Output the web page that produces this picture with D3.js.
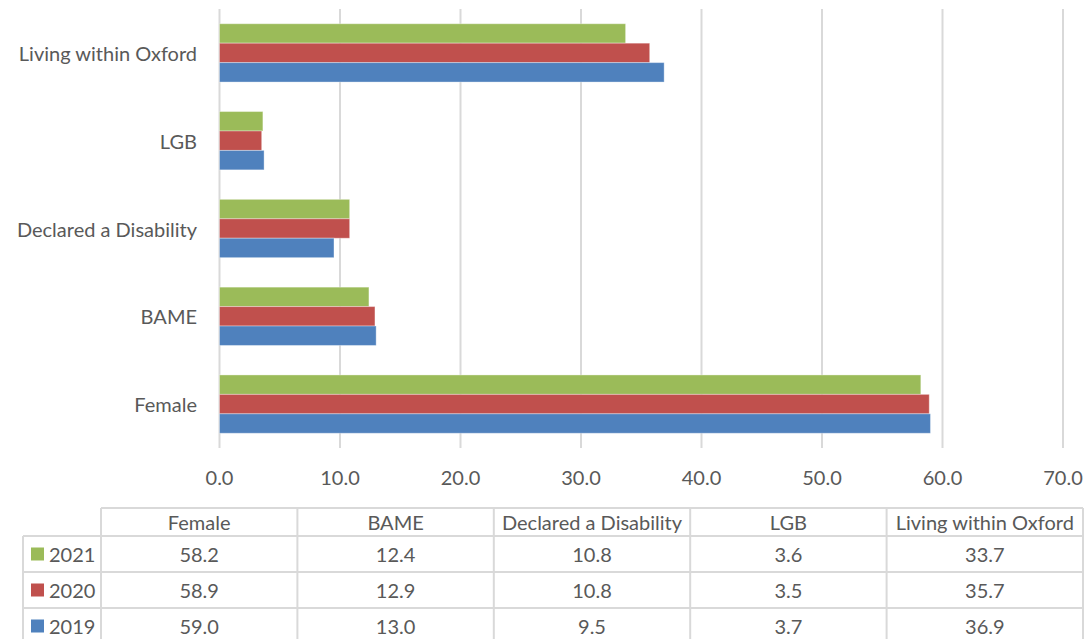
<!DOCTYPE html>
<html>
<head>
<meta charset="utf-8">
<script src="https://cdn.jsdelivr.net/npm/d3@7"></script>
<style>
html,body{margin:0;padding:0;background:#fff;}
svg{display:block;}
text{font-family:Lato,"Open Sans",sans-serif;fill:#595959;}
</style>
</head>
<body>
<svg id="chart" width="1085" height="639"></svg>
<script>
const categories = ["Female", "BAME", "Declared a Disability", "LGB", "Living within Oxford"];
const seriesNames = ["2021", "2020", "2019"];
const values2021 = [58.2, 12.4, 10.8, 3.6, 33.7];
const values2020 = [58.9, 12.9, 10.8, 3.5, 35.7];
const values2019 = [59.0, 13.0, 9.5, 3.7, 36.9];
const xTicks = [0, 10, 20, 30, 40, 50, 60, 70];
const colors = {"2021": "#9bbb59", "2020": "#c0504d", "2019": "#4f81bd"};

const seriesValues = {"2021": values2021, "2020": values2020, "2019": values2019};

const svg = d3.select("#chart");
const fs = 20;

const x = d3.scaleLinear().domain([0, 70]).range([219.5, 1063]);
const y = d3.scaleBand().domain(categories.slice().reverse()).range([9, 448]).paddingInner(0.336).paddingOuter(0.168);
const ySub = d3.scaleBand().domain(seriesNames).range([0, y.bandwidth()]);

// gridlines
svg.append("g").selectAll("line").data(xTicks).join("line")
  .attr("x1", d => x(d)).attr("x2", d => x(d))
  .attr("y1", 9).attr("y2", 448)
  .attr("stroke", "#d9d9d9").attr("stroke-width", 2);

// bars
const groups = svg.append("g").selectAll("g").data(categories).join("g")
  .attr("transform", d => `translate(0,${y(d)})`);
groups.selectAll("rect").data((c, i) => seriesNames.map(s => ({s, v: seriesValues[s][i]})))
  .join("rect")
  .attr("x", x(0))
  .attr("y", d => ySub(d.s))
  .attr("width", d => x(d.v) - x(0))
  .attr("height", ySub.bandwidth())
  .attr("fill", d => colors[d.s])
  .attr("stroke", "rgba(255,255,255,0.35)")
  .attr("stroke-width", 1);

// category labels
svg.append("g").selectAll("text").data(categories).join("text")
  .attr("x", 197)
  .attr("y", d => y(d) + y.bandwidth() / 2)
  .attr("text-anchor", "end")
  .attr("dominant-baseline", "central")
  .attr("font-size", fs)
  .text(d => d);

// x tick labels
svg.append("g").selectAll("text").data(xTicks).join("text")
  .attr("x", d => x(d))
  .attr("y", 477)
  .attr("text-anchor", "middle")
  .attr("dominant-baseline", "central")
  .attr("font-size", fs)
  .text(d => d3.format(".1f")(d));

// data table
const col = d3.scaleBand().domain(categories).range([101, 1083]);
const rowTops = [508, 536, 572, 608, 644];
const legLeft = 23;
const tg = svg.append("g");
const gridColor = "#d9d9d9";
tg.append("line").attr("x1", 101).attr("x2", 1083).attr("y1", rowTops[0]).attr("y2", rowTops[0]);
rowTops.slice(1).forEach(t => tg.append("line").attr("x1", legLeft).attr("x2", 1083).attr("y1", t).attr("y2", t));
tg.append("line").attr("x1", legLeft).attr("x2", legLeft).attr("y1", rowTops[1]).attr("y2", 644);
categories.forEach(c => tg.append("line").attr("x1", col(c)).attr("x2", col(c)).attr("y1", rowTops[0]).attr("y2", 644));
tg.append("line").attr("x1", 1083).attr("x2", 1083).attr("y1", rowTops[0]).attr("y2", 644);
tg.selectAll("line").attr("stroke", gridColor).attr("stroke-width", 2);

tg.append("g").selectAll("text").data(categories).join("text")
  .attr("x", d => col(d) + col.bandwidth() / 2)
  .attr("y", (rowTops[0] + rowTops[1]) / 2)
  .attr("text-anchor", "middle")
  .attr("dominant-baseline", "central")
  .attr("font-size", fs)
  .text(d => d);

seriesNames.forEach((s, r) => {
  const cy = (rowTops[r + 1] + rowTops[r + 2]) / 2;
  tg.append("rect").attr("x", 31).attr("y", cy - 6.5).attr("width", 13).attr("height", 13).attr("fill", colors[s]);
  tg.append("text").attr("x", 49).attr("y", cy).attr("dominant-baseline", "central").attr("font-size", fs).text(s);
  tg.append("g").selectAll("text").data(categories).join("text")
    .attr("x", d => col(d) + col.bandwidth() / 2)
    .attr("y", cy)
    .attr("text-anchor", "middle")
    .attr("dominant-baseline", "central")
    .attr("font-size", fs)
    .text((d, i) => d3.format(".1f")(seriesValues[s][i]));
});
</script>
</body>
</html>
